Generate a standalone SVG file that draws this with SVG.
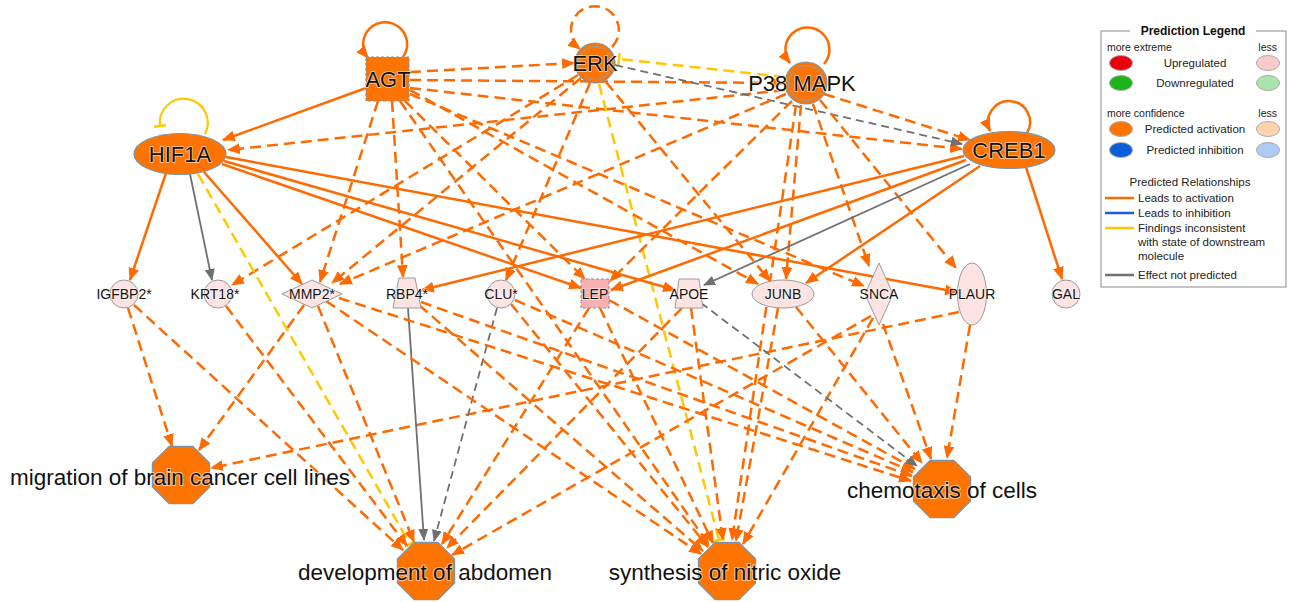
<svg xmlns="http://www.w3.org/2000/svg" width="1289" height="602" viewBox="0 0 1289 602">
<style>
text{font-family:"Liberation Sans",Arial,sans-serif;fill:#111}
.s{stroke:#FF6A00;stroke-width:2.5;fill:none;marker-end:url(#ao)}
.d{stroke:#FF6A00;stroke-width:2.5;fill:none;stroke-dasharray:11 6;marker-end:url(#ao)}
.g{stroke:#707070;stroke-width:1.8;fill:none;marker-end:url(#ag)}
.gd{stroke:#707070;stroke-width:1.8;fill:none;stroke-dasharray:8 5;marker-end:url(#ag)}
.y{stroke:#FFC800;stroke-width:2.5;fill:none;stroke-dasharray:11 6;marker-end:url(#ty)}
.ys{stroke:#FFC800;stroke-width:2.2;fill:none;marker-end:url(#ty)}
.big{stroke:#7894AA;stroke-width:1.2;fill:#FF7400}
.pale{fill:#FDE3E1;stroke:#9A9A9A;stroke-width:1}
.tl{font-size:22px;paint-order:stroke;stroke:#fff;stroke-width:1.6px;stroke-opacity:.7}
.ml{font-size:14px;text-anchor:middle;paint-order:stroke;stroke:#fff;stroke-width:1.5px;stroke-opacity:.6}
.fl{font-size:22.5px;text-anchor:middle;paint-order:stroke;stroke:#fff;stroke-width:2px;stroke-opacity:.6}
.lg{font-size:11.5px;fill:#222}
.lgs{font-size:10.5px;fill:#222}
</style>
<defs>
<marker id="ao" viewBox="0 0 12 10" refX="11" refY="5" markerWidth="13" markerHeight="11" markerUnits="userSpaceOnUse" orient="auto"><path d="M0,0 L12,5 L0,10 z" fill="#FF6A00"/></marker>
<marker id="ag" viewBox="0 0 12 10" refX="11" refY="5" markerWidth="12" markerHeight="10" markerUnits="userSpaceOnUse" orient="auto"><path d="M0,0 L12,5 L0,10 z" fill="#707070"/></marker>
<marker id="ty" viewBox="0 0 4 12" refX="2" refY="6" markerWidth="4" markerHeight="12" markerUnits="userSpaceOnUse" orient="auto"><path d="M2,0 L2,12" stroke="#FFC800" stroke-width="2.5"/></marker>
<path id="oct" d="M-11.9,-28.6 L11.9,-28.6 L28.6,-11.9 L28.6,11.9 L11.9,28.6 L-11.9,28.6 L-28.6,11.9 L-28.6,-11.9 z"/>
</defs>
<rect width="1289" height="602" fill="#fff"/>

<g id="connectors">
<!-- self loops -->
<path class="s" d="M403 57 A22 22 0 1 0 368 58"/>
<path class="d" d="M612 47 A24 24 0 1 0 580 49"/>
<path class="s" d="M824 64 A22 22 0 1 0 790 63"/>
<path class="s" d="M1027 133 A21 21 0 1 0 990 131"/>
<path class="ys" d="M205 134 A24 24 0 1 0 160 126"/>
<!-- top level -->
<line class="s" x1="366" y1="88" x2="223" y2="140"/>
<line class="d" x1="410" y1="72" x2="574" y2="63"/>
<line class="d" x1="410" y1="80" x2="784" y2="83"/>
<line class="d" x1="410" y1="88" x2="962" y2="149"/>
<line class="d" x1="785" y1="90" x2="228" y2="150"/>
<line class="d" x1="824" y1="94" x2="970" y2="140"/>
<line class="gd" x1="615" y1="65" x2="962" y2="144"/>
<line class="y" x1="785" y1="77" x2="619" y2="59"/>
<line class="d" x1="578" y1="75" x2="232" y2="285"/>
<line class="d" x1="581" y1="78" x2="332" y2="283"/>
<line class="d" x1="590" y1="83" x2="506" y2="280"/>
<line class="d" x1="606" y1="82" x2="770" y2="281"/>
<line class="y" x1="599" y1="84" x2="719" y2="540"/>
<line class="d" x1="786" y1="94" x2="340" y2="284"/>
<line class="d" x1="792" y1="101" x2="610" y2="281"/>
<line class="d" x1="801" y1="105" x2="786" y2="279"/>
<line class="d" x1="813" y1="104" x2="869" y2="266"/>
<line class="d" x1="820" y1="100" x2="956" y2="268"/>
<line class="d" x1="796" y1="105" x2="732" y2="540"/>
<line class="s" x1="964" y1="156" x2="422" y2="290"/>
<line class="s" x1="966" y1="160" x2="611" y2="290"/>
<line class="g" x1="970" y1="164" x2="704" y2="285"/>
<line class="s" x1="980" y1="166" x2="806" y2="283"/>
<line class="s" x1="1026" y1="167" x2="1062" y2="279"/>
<line class="s" x1="166" y1="173" x2="130" y2="280"/>
<line class="g" x1="190" y1="174" x2="212" y2="280"/>
<line class="s" x1="204" y1="172" x2="302" y2="284"/>
<line class="s" x1="222" y1="164" x2="581" y2="288"/>
<line class="s" x1="224" y1="161" x2="675" y2="290"/>
<line class="s" x1="226" y1="157" x2="957" y2="292"/>
<line class="y" x1="198" y1="174" x2="410" y2="544"/>
<line class="d" x1="378" y1="101" x2="320" y2="282"/>
<line class="d" x1="392" y1="101" x2="403" y2="277"/>
<line class="d" x1="405" y1="101" x2="585" y2="279"/>
<line class="d" x1="410" y1="94" x2="864" y2="286"/>
<line class="d" x1="410" y1="90" x2="758" y2="284"/>
<line class="d" x1="400" y1="101" x2="709" y2="545"/>
<!-- to functions -->
<line class="d" x1="128" y1="308" x2="172" y2="446"/>
<line class="d" x1="304" y1="305" x2="199" y2="450"/>
<line class="d" x1="959" y1="312" x2="211" y2="468"/>
<line class="d" x1="134" y1="305" x2="403" y2="550"/>
<line class="d" x1="226" y1="306" x2="407" y2="546"/>
<line class="d" x1="318" y1="306" x2="414" y2="542"/>
<line class="g" x1="408" y1="308" x2="424" y2="540"/>
<line class="gd" x1="497" y1="308" x2="434" y2="541"/>
<line class="d" x1="589" y1="308" x2="442" y2="544"/>
<line class="d" x1="682" y1="308" x2="447" y2="548"/>
<line class="d" x1="871" y1="316" x2="452" y2="555"/>
<line class="d" x1="326" y1="301" x2="701" y2="554"/>
<line class="d" x1="419" y1="305" x2="703" y2="551"/>
<line class="d" x1="511" y1="304" x2="708" y2="547"/>
<line class="d" x1="600" y1="308" x2="713" y2="543"/>
<line class="d" x1="691" y1="308" x2="723" y2="540"/>
<line class="d" x1="778" y1="308" x2="736" y2="541"/>
<line class="d" x1="873" y1="318" x2="743" y2="544"/>
<line class="d" x1="339" y1="298" x2="911" y2="481"/>
<line class="d" x1="421" y1="302" x2="912" y2="476"/>
<line class="d" x1="515" y1="300" x2="913" y2="472"/>
<line class="d" x1="609" y1="300" x2="915" y2="469"/>
<line class="gd" x1="701" y1="303" x2="917" y2="466"/>
<line class="d" x1="796" y1="307" x2="922" y2="463"/>
<line class="d" x1="883" y1="324" x2="931" y2="459"/>
<line class="d" x1="970" y1="325" x2="947" y2="458"/>
</g>

<g id="AGT"><rect x="366" y="57" width="43" height="44" class="big" stroke="#8a8a8a" stroke-dasharray="3 2"/><text class="tl" x="388" y="87" text-anchor="middle" font-size="22">AGT</text></g>
<g id="ERK"><circle cx="595" cy="63" r="20" class="big"/><circle cx="595" cy="63" r="16.5" fill="none" stroke="#8AA0B4" stroke-width="1"/><text class="tl" x="595" y="71" text-anchor="middle">ERK</text></g>
<g id="P38MAPK"><circle cx="806" cy="83" r="21" class="big"/><circle cx="806" cy="83" r="17.5" fill="none" stroke="#8AA0B4" stroke-width="1"/><text class="tl" x="802" y="91" text-anchor="middle">P38 MAPK</text></g>
<g id="HIF1A"><ellipse cx="180" cy="154" rx="46" ry="20.5" class="big"/><text class="tl" x="180" y="162" text-anchor="middle">HIF1A</text></g>
<g id="CREB1"><ellipse cx="1009" cy="150" rx="46" ry="18.5" class="big"/><text class="tl" x="1009" y="158" text-anchor="middle">CREB1</text></g>

<g id="IGFBP2"><circle cx="124" cy="294" r="14" class="pale"/><text class="ml" x="124" y="299">IGFBP2*</text></g>
<g id="KRT18"><circle cx="218" cy="294" r="14" class="pale"/><text class="ml" x="215" y="299">KRT18*</text></g>
<g id="MMP2"><path d="M282 294 L312 280 L342 294 L312 308 z" class="pale"/><text class="ml" x="312" y="299">MMP2*</text></g>
<g id="RBP4"><path d="M399 278 L415 278 L421 308 L393 308 z" class="pale"/><text class="ml" x="407" y="299">RBP4*</text></g>
<g id="CLU"><circle cx="501" cy="294" r="14" class="pale"/><text class="ml" x="501" y="299">CLU*</text></g>
<g id="LEP"><rect x="581" y="279" width="28" height="29" fill="#F8B0B0" stroke="#8a8a8a" stroke-dasharray="3 2"/><text class="ml" x="595" y="299">LEP</text></g>
<g id="APOE"><path d="M679 279 L699 279 L703 308 L675 308 z" class="pale"/><text class="ml" x="689" y="299">APOE</text></g>
<g id="JUNB"><ellipse cx="783" cy="294" rx="31" ry="14" class="pale"/><text class="ml" x="783" y="299">JUNB</text></g>
<g id="SNCA"><path d="M879 263 L893 294 L879 325 L865 294 z" class="pale"/><text class="ml" x="879" y="299">SNCA</text></g>
<g id="PLAUR"><ellipse cx="972" cy="294" rx="14.5" ry="31" class="pale"/><text class="ml" x="972" y="299">PLAUR</text></g>
<g id="GAL"><circle cx="1066" cy="294" r="14" class="pale"/><text class="ml" x="1066" y="299">GAL</text></g>

<g id="migration"><use href="#oct" x="181" y="475" class="big"/><text class="fl" x="180" y="485">migration of brain cancer cell lines</text></g>
<g id="development"><use href="#oct" x="426" y="571" class="big"/><text class="fl" x="425" y="580">development of abdomen</text></g>
<g id="synthesis"><use href="#oct" x="727" y="571" class="big"/><text class="fl" x="725" y="580">synthesis of nitric oxide</text></g>
<g id="chemotaxis"><use href="#oct" x="942" y="489" class="big"/><text class="fl" x="942" y="498">chemotaxis of cells</text></g>

<g id="legend">
<rect x="1101" y="31" width="185" height="256" fill="#fff" stroke="#8a8a8a" stroke-width="1"/>
<rect x="1130" y="24" width="126" height="14" fill="#fff"/>
<text x="1193" y="35" text-anchor="middle" font-size="12" font-weight="bold" fill="#111">Prediction Legend</text>
<text class="lgs" x="1107" y="51">more extreme</text>
<text class="lgs" x="1277" y="51" text-anchor="end">less</text>
<ellipse cx="1121" cy="63" rx="11.5" ry="7.5" fill="#E8000A" stroke="#aaa"/>
<text class="lg" x="1195" y="67" text-anchor="middle">Upregulated</text>
<ellipse cx="1268" cy="63" rx="11.5" ry="7.5" fill="#F9CACA" stroke="#aaa"/>
<ellipse cx="1121" cy="83" rx="11.5" ry="7.5" fill="#1DB31D" stroke="#aaa"/>
<text class="lg" x="1195" y="87" text-anchor="middle">Downregulated</text>
<ellipse cx="1268" cy="83" rx="11.5" ry="7.5" fill="#ABE4AB" stroke="#aaa"/>
<text class="lgs" x="1107" y="117">more confidence</text>
<text class="lgs" x="1277" y="117" text-anchor="end">less</text>
<ellipse cx="1121" cy="129" rx="11.5" ry="7.5" fill="#FF7400" stroke="#aaa"/>
<text class="lg" x="1195" y="133" text-anchor="middle">Predicted activation</text>
<ellipse cx="1268" cy="129" rx="11.5" ry="7.5" fill="#FDD3AE" stroke="#aaa"/>
<ellipse cx="1121" cy="150" rx="11.5" ry="7.5" fill="#0A5ED6" stroke="#aaa"/>
<text class="lg" x="1195" y="154" text-anchor="middle">Predicted inhibition</text>
<ellipse cx="1268" cy="150" rx="11.5" ry="7.5" fill="#ABCDF5" stroke="#aaa"/>
<text class="lg" x="1190" y="186" text-anchor="middle">Predicted Relationships</text>
<line x1="1105" y1="198" x2="1134" y2="198" stroke="#FF6A00" stroke-width="2.5"/>
<text class="lg" x="1138" y="202">Leads to activation</text>
<line x1="1105" y1="213" x2="1134" y2="213" stroke="#1560E0" stroke-width="2.5"/>
<text class="lg" x="1138" y="217">Leads to inhibition</text>
<line x1="1105" y1="228" x2="1134" y2="228" stroke="#FFC800" stroke-width="2.5"/>
<text class="lg" x="1138" y="232">Findings inconsistent</text>
<text class="lg" x="1138" y="246">with state of downstream</text>
<text class="lg" x="1138" y="260">molecule</text>
<line x1="1105" y1="275" x2="1134" y2="275" stroke="#707070" stroke-width="2.5"/>
<text class="lg" x="1138" y="279">Effect not predicted</text>
</g>
</svg>
